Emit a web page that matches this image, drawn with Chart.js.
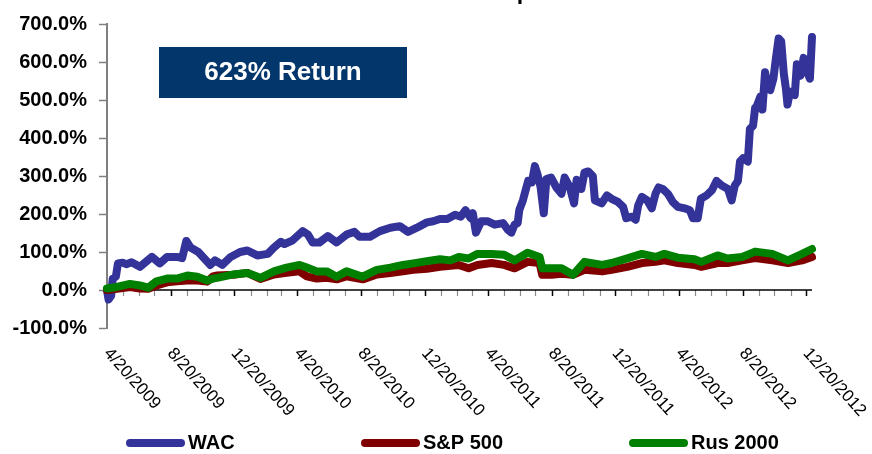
<!DOCTYPE html>
<html><head><meta charset="utf-8">
<script src="https://cdn.jsdelivr.net/npm/chart.js@4.4.1/dist/chart.umd.min.js"></script>
<style>html,body{margin:0;padding:0;background:#fff;}#wrap{width:872px;height:454px;}</style>
</head><body><div id="wrap"><canvas id="c" width="872" height="454"></canvas></div>
<script>
const chartTitle = 'Total Return Since Inception';
const calloutText = '623% Return';
const seriesNames = ['WAC', 'S&P 500', 'Rus 2000'];
const seriesColors = ['#333399', '#800000', '#008000'];
const tickLabels = ['4/20/2009','8/20/2009','12/20/2009','4/20/2010','8/20/2010','12/20/2010','4/20/2011','8/20/2011','12/20/2011','4/20/2012','8/20/2012','12/20/2012'];
const axisStart = '2009-04-20';
const axisEnd = '2012-12-31';

const wacDates = ['2009-04-20','2009-04-23','2009-04-28','2009-05-01','2009-05-07','2009-05-11','2009-05-20','2009-05-28','2009-06-06','2009-06-22','2009-07-15','2009-07-30','2009-08-13','2009-09-01','2009-09-11','2009-09-19','2009-09-27','2009-10-12','2009-11-04','2009-11-13','2009-11-27','2009-12-13','2009-12-31','2010-01-14','2010-02-02','2010-02-22','2010-03-06','2010-03-19','2010-03-26','2010-04-10','2010-04-30','2010-05-10','2010-05-19','2010-06-01','2010-06-17','2010-07-04','2010-07-23','2010-08-07','2010-08-17','2010-09-06','2010-09-25','2010-10-15','2010-11-02','2010-11-18','2010-12-05','2010-12-24','2011-01-05','2011-01-18','2011-02-01','2011-02-16','2011-02-27','2011-03-08','2011-03-18','2011-03-22','2011-03-28','2011-04-07','2011-04-19','2011-05-03','2011-05-19','2011-05-28','2011-06-04','2011-06-10','2011-06-16','2011-06-19','2011-06-26','2011-07-06','2011-07-13','2011-07-19','2011-07-24','2011-07-30','2011-08-05','2011-08-10','2011-08-19','2011-08-29','2011-09-08','2011-09-14','2011-09-24','2011-10-02','2011-10-07','2011-10-16','2011-10-22','2011-10-29','2011-11-07','2011-11-11','2011-11-24','2011-12-04','2011-12-13','2011-12-25','2012-01-04','2012-01-10','2012-01-21','2012-01-28','2012-02-02','2012-02-09','2012-02-19','2012-02-28','2012-03-06','2012-03-12','2012-03-20','2012-03-30','2012-04-08','2012-04-18','2012-05-01','2012-05-11','2012-05-17','2012-05-26','2012-06-01','2012-06-12','2012-06-22','2012-07-01','2012-07-11','2012-07-23','2012-07-30','2012-08-05','2012-08-11','2012-08-15','2012-08-21','2012-08-30','2012-09-03','2012-09-09','2012-09-13','2012-09-16','2012-09-23','2012-09-27','2012-10-02','2012-10-08','2012-10-12','2012-10-18','2012-10-23','2012-10-28','2012-11-02','2012-11-07','2012-11-11','2012-11-14','2012-11-19','2012-11-28','2012-12-02','2012-12-09','2012-12-15','2012-12-21','2012-12-27','2012-12-31'];
const wacValues = [0,-25,-15,30,35,70,72,68,73,61,87,70,87,87,84,129,112,100,66,78,66,87,100,104,91,95,112,127,121,130,155,146,125,125,142,125,146,153,140,140,155,164,168,153,164,178,181,187,187,198,193,210,189,202,151,181,181,172,176,159,151,172,176,210,236,287,283,326,304,270,202,292,296,270,253,296,270,228,290,266,309,312,300,236,228,249,240,232,219,189,193,185,223,245,236,215,253,270,266,253,232,219,215,210,189,189,240,249,262,287,275,266,236,275,287,338,347,338,424,432,479,483,509,475,573,530,526,556,611,662,654,569,530,488,522,513,594,564,611,577,556,666];

const indexDates = ['2009-04-20','2009-05-09','2009-06-03','2009-06-22','2009-07-08','2009-07-24','2009-08-13','2009-09-01','2009-09-21','2009-10-10','2009-10-29','2009-11-09','2009-11-17','2009-12-18','2010-01-14','2010-02-08','2010-03-06','2010-03-30','2010-04-24','2010-05-08','2010-05-27','2010-06-15','2010-07-04','2010-07-23','2010-08-23','2010-09-19','2010-10-15','2010-11-08','2010-11-28','2010-12-24','2011-01-18','2011-02-07','2011-02-23','2011-03-14','2011-03-31','2011-04-27','2011-05-21','2011-06-10','2011-07-05','2011-07-28','2011-08-02','2011-08-20','2011-09-08','2011-09-30','2011-10-22','2011-11-25','2011-12-13','2012-01-12','2012-02-09','2012-03-06','2012-03-23','2012-04-18','2012-05-20','2012-06-02','2012-07-03','2012-07-22','2012-08-19','2012-09-13','2012-10-16','2012-11-15','2012-12-12','2012-12-31'];
const spValues  = [0,3,8,4,3,12,20,23,25,25,22,36,38,40,45,29,41,45,49,36,30,32,28,36,28,41,45,49,53,56,61,64,66,57,66,71,66,57,74,71,40,40,43,40,53,49,53,61,71,74,78,71,66,61,71,71,78,84,78,71,78,87];
const rusValues = [4,8,16,12,6,23,30,30,38,35,25,30,32,41,45,32,49,59,66,59,49,49,35,49,35,53,59,66,70,76,81,78,87,83,95,95,93,78,98,87,57,57,57,40,74,66,71,83,95,87,95,85,81,74,91,83,87,101,95,78,95,108];

const yMin = -100, yMax = 700, yStep = 100;

function isoToMs(s){ const p = s.split('-').map(Number); return Date.UTC(p[0], p[1]-1, p[2]); }
function mdyToMs(s){ const p = s.split('/').map(Number); return Date.UTC(p[2], p[0]-1, p[1]); }
function pts(dates, vals){ return dates.map((d,i)=>({x: isoToMs(d), y: vals[i]})); }

const FONT = '"Liberation Sans", Arial, Helvetica, sans-serif';

const decor = {
  id: 'decor',
  beforeDatasetsDraw(chart){
    const ctx = chart.ctx, xs = chart.scales.x, ys = chart.scales.y, ca = chart.chartArea;
    const y0 = ys.getPixelForValue(0);
    ctx.save();
    const s = new Date(isoToMs(axisStart));
    const endMs = isoToMs(axisEnd);
    let k = 0;
    while (true){
      const t = Date.UTC(s.getUTCFullYear(), s.getUTCMonth() + k, 20);
      if (t > endMs) break;
      const px = Math.round(xs.getPixelForValue(t)) + 0.5;
      const major = k % 4 === 0;
      ctx.strokeStyle = major ? '#000' : '#8c8c8c';
      ctx.lineWidth = major ? 1.5 : 1.2;
      ctx.beginPath(); ctx.moveTo(px, y0); ctx.lineTo(px, y0 + 6); ctx.stroke();
      k++;
    }
    ctx.strokeStyle = '#000'; ctx.lineWidth = 1.5;
    ctx.beginPath(); ctx.moveTo(ca.left, y0); ctx.lineTo(ca.right, y0); ctx.stroke();
    ctx.restore();
  },
  afterDraw(chart){
    const ctx = chart.ctx, xs = chart.scales.x, ca = chart.chartArea;
    ctx.save();
    // title (mostly cut off at the top, as in the source)
    ctx.fillStyle = '#000';
    ctx.font = 'bold 23px ' + FONT;
    ctx.textAlign = 'center'; ctx.textBaseline = 'alphabetic';
    ctx.fillText(chartTitle, 418, -1);
    // rotated date labels
    ctx.font = '17px ' + FONT;
    ctx.textAlign = 'left'; ctx.textBaseline = 'top';
    const ang = 48 * Math.PI / 180;
    tickLabels.forEach(l => {
      const px = xs.getPixelForValue(mdyToMs(l));
      ctx.save();
      ctx.translate(px + 6, ca.bottom + 17);
      ctx.rotate(ang);
      ctx.fillText(l, 0, 0);
      ctx.restore();
    });
    // callout box
    ctx.fillStyle = '#03366b';
    ctx.fillRect(159, 47, 248, 51);
    ctx.fillStyle = '#fff';
    ctx.font = 'bold 26px ' + FONT;
    ctx.textAlign = 'center'; ctx.textBaseline = 'middle';
    ctx.fillText(calloutText, 283, 73);
    // legend
    const lx = [130, 365, 633], ly = 443;
    chart.data.datasets.forEach((ds, i) => {
      ctx.strokeStyle = ds.borderColor; ctx.lineWidth = 8; ctx.lineCap = 'round';
      ctx.beginPath(); ctx.moveTo(lx[i], ly); ctx.lineTo(lx[i] + 51, ly); ctx.stroke();
      ctx.fillStyle = '#000';
      ctx.font = 'bold 20px ' + FONT;
      ctx.textAlign = 'left'; ctx.textBaseline = 'middle';
      ctx.fillText(ds.label, lx[i] + 58, ly);
    });
    ctx.restore();
  }
};

const mk = (i, data, order) => ({
  label: seriesNames[i], data, borderColor: seriesColors[i], backgroundColor: seriesColors[i],
  borderWidth: 8, pointRadius: 0, tension: 0, borderJoinStyle: 'round', borderCapStyle: 'round',
  order, clip: 6
});

new Chart(document.getElementById('c'), {
  type: 'line',
  data: { datasets: [
    mk(0, pts(wacDates, wacValues), 3),
    mk(1, pts(indexDates, spValues), 2),
    mk(2, pts(indexDates, rusValues), 1)
  ]},
  options: {
    responsive: false, animation: false, devicePixelRatio: 1,
    layout: { padding: { left: 0, right: 60, top: 15, bottom: 126 } },
    plugins: { legend: { display: false }, tooltip: { enabled: false }, title: { display: false } },
    scales: {
      x: { type: 'linear', display: false, min: isoToMs(axisStart), max: isoToMs(axisEnd) },
      y: {
        min: yMin, max: yMax,
        ticks: { stepSize: yStep, color: '#000', padding: 12,
          font: { family: FONT, size: 20, weight: 'bold' },
          callback: v => v.toFixed(1) + '%' },
        grid: { drawOnChartArea: false, tickLength: 8, tickColor: '#808080', tickWidth: 1.5 },
        border: { color: '#808080', width: 2 },
        afterFit(s){ s.width = 107; }
      }
    }
  },
  plugins: [decor]
});
</script></body></html>
